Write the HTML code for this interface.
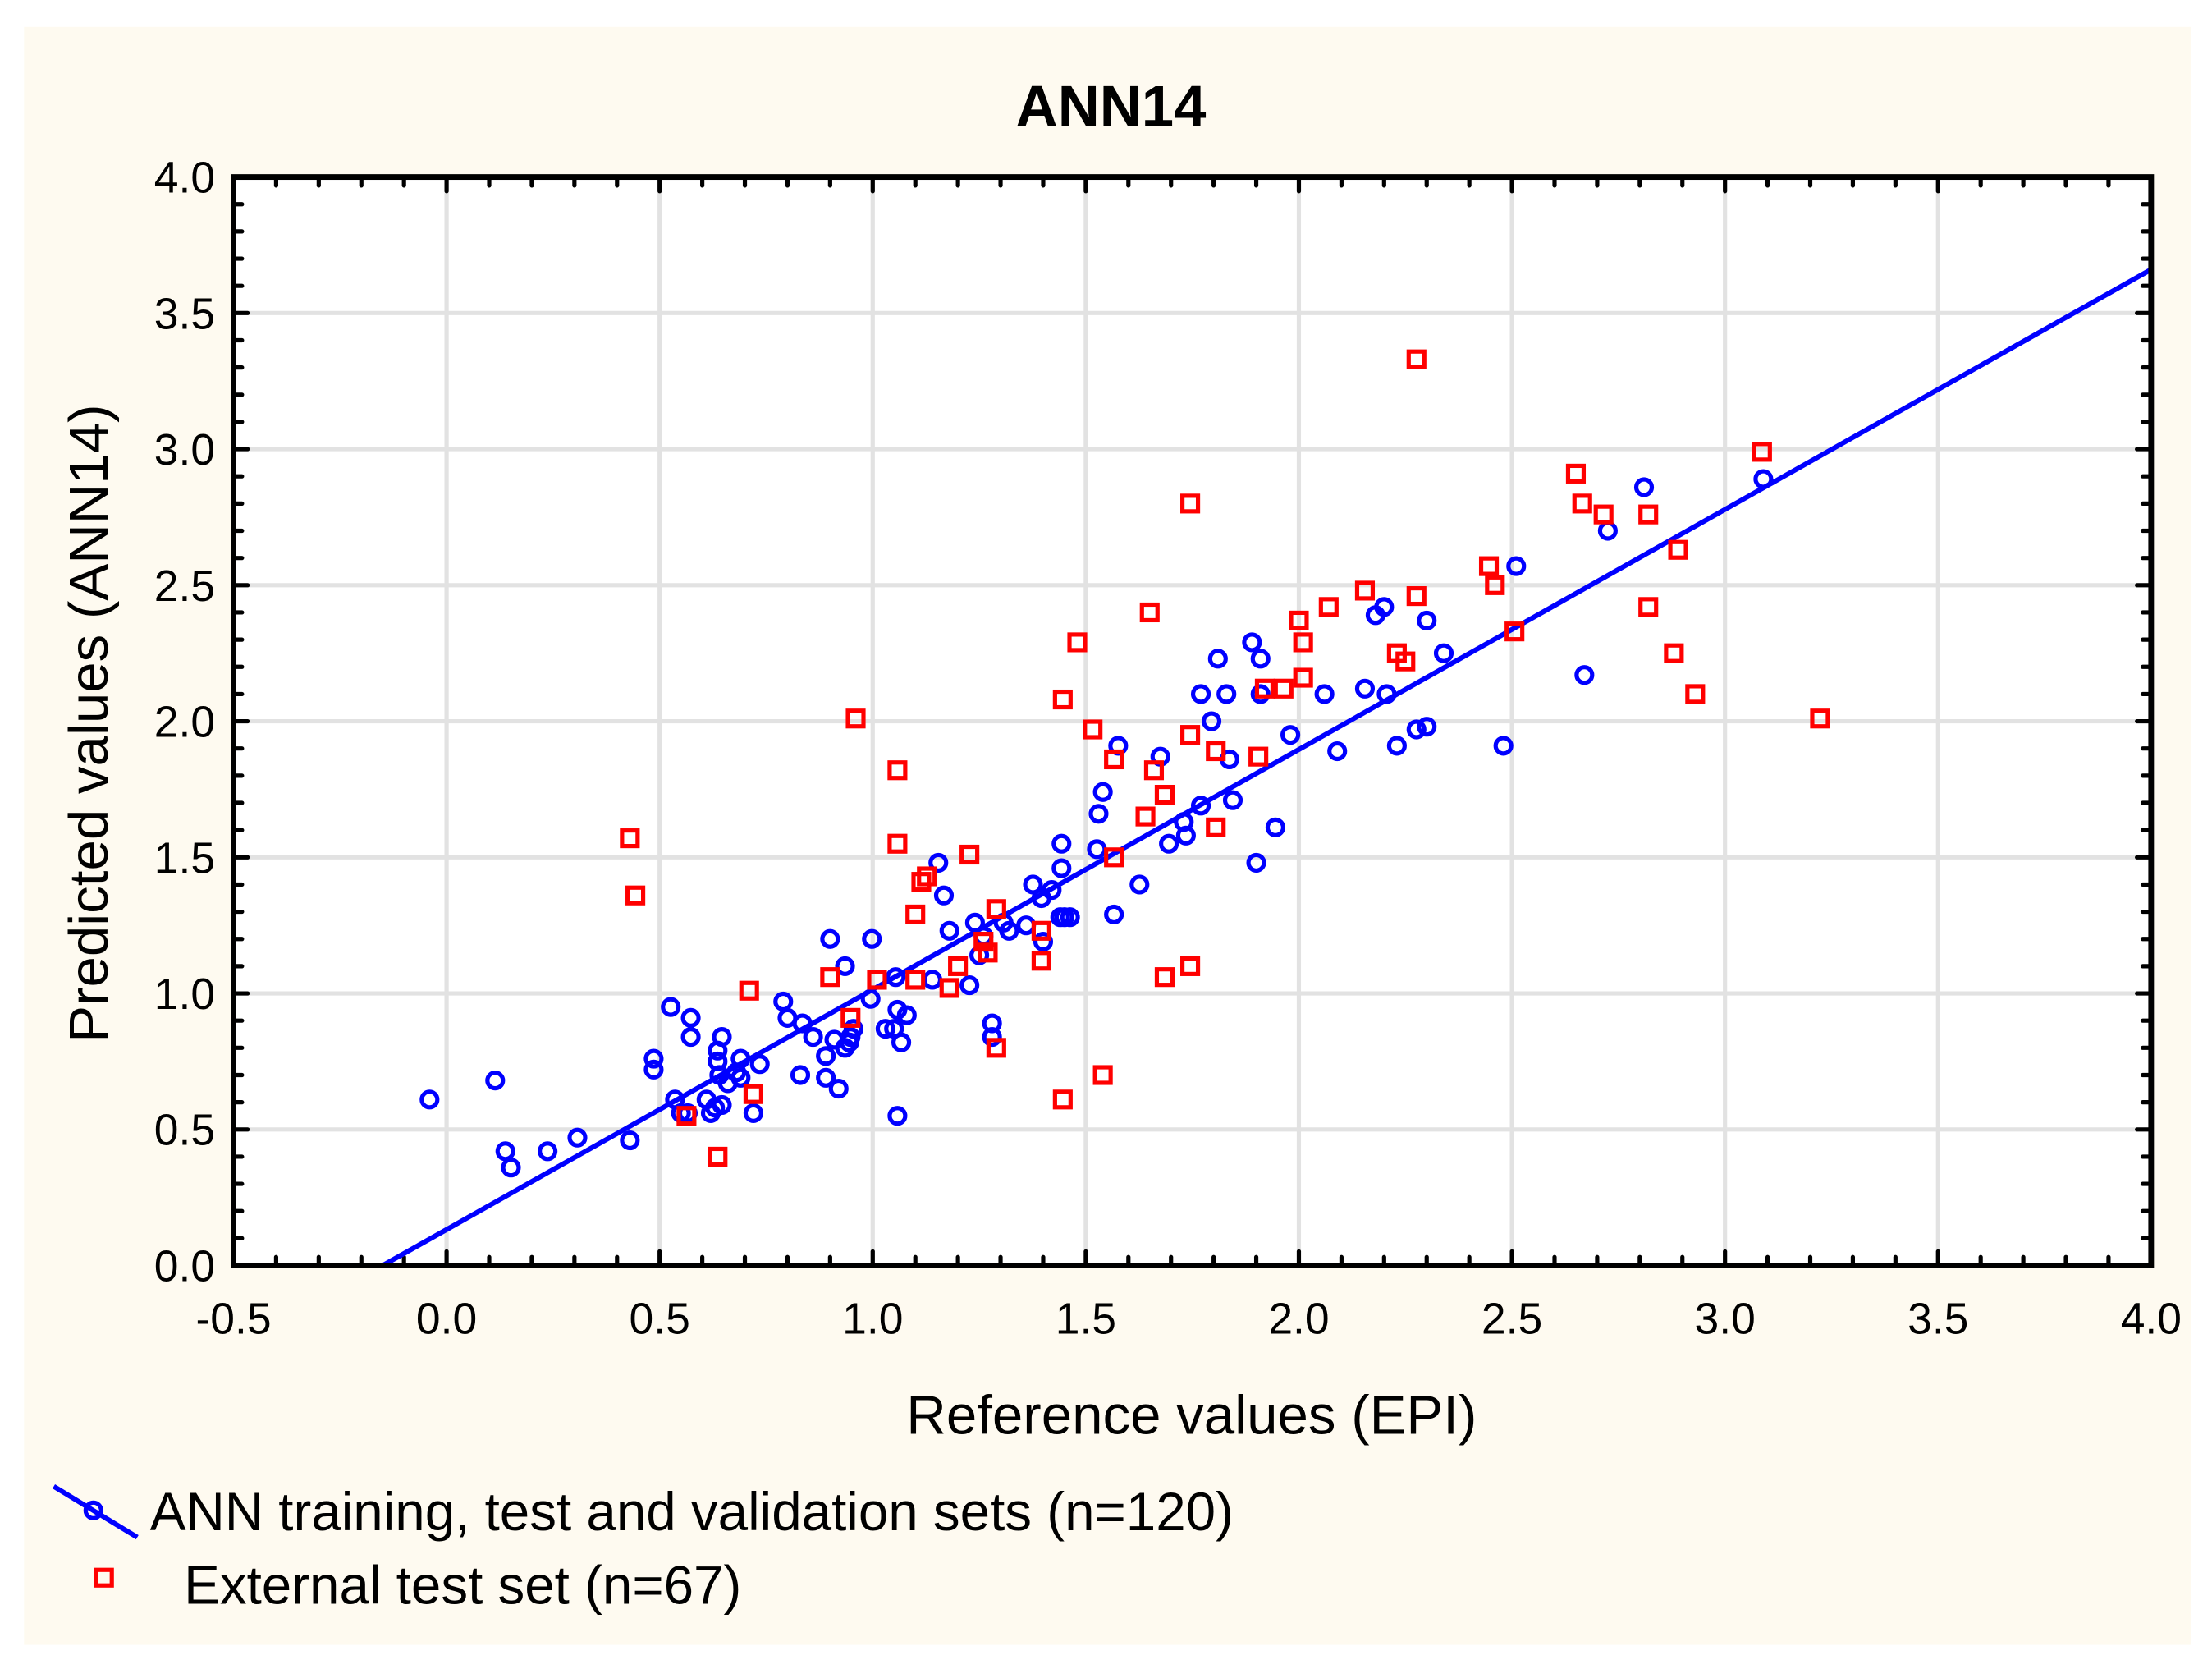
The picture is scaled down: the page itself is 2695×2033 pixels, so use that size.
<!DOCTYPE html>
<html><head><meta charset="utf-8"><style>
html,body{margin:0;padding:0;background:#fff;}
svg{display:block;font-family:"Liberation Sans",Arial,sans-serif;}
</style></head><body>
<svg id="chart" width="2695" height="2033" viewBox="0 0 1563 1179" xmlns="http://www.w3.org/2000/svg">
<rect x="17" y="19" width="1531" height="1143" fill="#fefaf0"/>
<rect x="165" y="125" width="1355" height="769" fill="#fff"/>
<g id="grid"></g><g id="ticks"></g>
<g id="reg"></g><g id="blue"></g><g id="red"></g>
<rect x="165" y="125" width="1355" height="769" fill="none" stroke="#000" stroke-width="4"/>
<text x="785" y="89" font-size="41" font-weight="bold" text-anchor="middle">ANN14</text>
<text x="842" y="1013" font-size="39" text-anchor="middle">Reference values (EPI)</text>
<text transform="translate(76,511) rotate(-90)" font-size="39" text-anchor="middle">Predicted values (ANN14)</text>
<g>
<line x1="38" y1="1050" x2="97" y2="1086" stroke="#0000ff" stroke-width="3.5"/>
<circle cx="66" cy="1067" r="5.5" fill="none" stroke="#0000ff" stroke-width="3"/>
<text x="106" y="1081" font-size="38">ANN training, test and validation sets (n=120)</text>
<rect x="68" y="1109" width="11" height="11" fill="none" stroke="#ff0000" stroke-width="3"/>
<text x="130" y="1133" font-size="38">External test set (n=67)</text>
</g>
</svg>
<script>
const xTicks=["-0.5","0.0","0.5","1.0","1.5","2.0","2.5","3.0","3.5","4.0"];
const yTicks=["0.0","0.5","1.0","1.5","2.0","2.5","3.0","3.5","4.0"];
const blueX=[-0.04,0.114,0.138,0.151,0.237,0.307,0.43,0.486,0.486,0.526,0.536,0.55,0.566,0.573,0.573,0.61,0.62,0.63,0.636,0.636,0.64,0.646,0.646,0.66,0.68,0.69,0.69,0.72,0.735,0.79,0.80,0.835,0.83,0.86,0.89,0.89,0.90,0.91,0.92,0.935,0.935,0.945,0.948,0.955,0.998,0.995,1.03,1.05,1.054,1.058,1.058,1.067,1.08,1.14,1.154,1.167,1.18,1.227,1.24,1.25,1.26,1.28,1.28,1.307,1.32,1.36,1.376,1.396,1.40,1.42,1.44,1.45,1.443,1.443,1.463,1.526,1.53,1.54,1.566,1.576,1.626,1.675,1.695,1.73,1.735,1.77,1.77,1.795,1.81,1.83,1.837,1.845,1.89,1.90,1.91,1.91,1.945,1.98,2.06,2.09,2.155,2.18,2.20,2.206,2.23,2.276,2.30,2.30,2.34,2.48,2.51,2.67,2.725,2.81,3.09];
const blueY=[0.61,0.68,0.42,0.36,0.42,0.47,0.46,0.76,0.72,0.95,0.61,0.56,0.56,0.91,0.84,0.61,0.56,0.58,0.79,0.75,0.70,0.84,0.59,0.67,0.71,0.76,0.69,0.56,0.74,0.97,0.91,0.89,0.70,0.84,0.77,0.69,1.20,0.83,0.65,1.10,0.80,0.82,0.84,0.87,1.20,0.98,0.87,0.87,1.06,0.55,0.94,0.82,0.92,1.05,1.48,1.36,1.23,1.03,1.26,1.14,1.21,0.89,0.84,1.26,1.23,1.25,1.40,1.35,1.19,1.38,1.28,1.28,1.55,1.46,1.28,1.53,1.66,1.74,1.29,1.91,1.40,1.87,1.55,1.63,1.58,1.69,2.10,2.00,2.23,2.10,1.86,1.71,2.29,1.48,2.23,2.10,1.61,1.95,2.10,1.89,2.12,2.39,2.42,2.10,1.91,1.97,1.98,2.37,2.25,1.91,2.57,2.17,2.70,2.86,2.89];
const redX=[0.43,0.443,0.563,0.636,0.71,0.72,0.90,0.948,0.96,1.01,1.058,1.058,1.10,1.10,1.114,1.127,1.18,1.20,1.227,1.26,1.27,1.29,1.29,1.396,1.396,1.446,1.446,1.48,1.516,1.54,1.566,1.566,1.64,1.65,1.66,1.685,1.685,1.745,1.745,1.745,1.805,1.805,1.905,1.92,1.964,2.00,2.01,2.01,2.07,2.155,2.23,2.25,2.276,2.276,2.446,2.46,2.506,2.65,2.665,2.715,2.82,2.82,2.88,2.89,2.93,3.087,3.223];
const redY=[1.57,1.36,0.55,0.40,1.01,0.63,1.06,0.91,2.01,1.05,1.82,1.55,1.29,1.05,1.41,1.43,1.02,1.10,1.51,1.19,1.15,1.31,0.80,1.23,1.12,0.61,2.08,2.29,1.97,0.70,1.86,1.50,1.65,2.40,1.82,1.06,1.73,2.80,1.95,1.10,1.89,1.61,1.87,2.12,2.12,2.37,2.29,2.16,2.42,2.48,2.25,2.22,2.46,3.33,2.57,2.50,2.33,2.91,2.80,2.76,2.76,2.42,2.25,2.63,2.10,2.99,2.01];
const regX=[-0.15,4.0];
const regSlope=0.882, regIntercept=0.1323;

const NS="http://www.w3.org/2000/svg";
const L=165,R=1520,T=125,B=894,XMIN=-0.5,XMAX=4.0,YMIN=0,YMAX=4.0;
function sx(v){return L+(v-XMIN)/(XMAX-XMIN)*(R-L);}
function sy(v){return B-(v-YMIN)/(YMAX-YMIN)*(B-T);}
function mk(tag,parent,attrs){const e=document.createElementNS(NS,tag);for(const k in attrs)e.setAttribute(k,attrs[k]);document.getElementById(parent).appendChild(e);return e;}

xTicks.forEach(function(t,i){
  const v=parseFloat(t),x=sx(v);
  if(i>0&&i<xTicks.length-1){const g=mk('line','grid',{x1:x,y1:T,x2:x,y2:B,stroke:'#e2e2e2','stroke-width':3});
  
  }
  const tl=mk('text','ticks',{x:x,y:942,'font-size':31,'text-anchor':'middle'});tl.textContent=t;
  
  
});
for(let k=0;k<=45;k++){const x=sx(XMIN+k*0.1);const len=(k%5===0)?10:6;
  mk('line','ticks',{x1:x,y1:B,x2:x,y2:B-len,stroke:'#000','stroke-width':3,'stroke-linecap':'round'});
  mk('line','ticks',{x1:x,y1:T,x2:x,y2:T+len,stroke:'#000','stroke-width':3,'stroke-linecap':'round'});}
yTicks.forEach(function(t,i){
  const v=parseFloat(t),y=sy(v);
  if(i>0&&i<yTicks.length-1){const g=mk('line','grid',{x1:L,y1:y,x2:R,y2:y,stroke:'#e2e2e2','stroke-width':3});
  
  }
  const tl=mk('text','ticks',{x:152,y:y+11,'font-size':31,'text-anchor':'end'});tl.textContent=t;
  
  
});
for(let k=0;k<=40;k++){const y=sy(k*0.1);const len=(k%5===0)?10:6;
  mk('line','ticks',{x1:L,y1:y,x2:L+len,y2:y,stroke:'#000','stroke-width':3,'stroke-linecap':'round'});
  mk('line','ticks',{x1:R,y1:y,x2:R-len,y2:y,stroke:'#000','stroke-width':3,'stroke-linecap':'round'});}

const rl=mk('line','reg',{x1:sx(regX[0]),y1:sy(regSlope*regX[0]+regIntercept),x2:sx(regX[1]),y2:sy(regSlope*regX[1]+regIntercept),stroke:'#0000ff','stroke-width':3.5});



blueX.forEach(function(v,i){
  const c=mk('circle','blue',{cx:sx(v),cy:sy(blueY[i]),r:5.5,fill:'none',stroke:'#0000ff','stroke-width':3});
  
  
});
redX.forEach(function(v,i){
  const s=mk('rect','red',{x:sx(v)-5.5,y:sy(redY[i])-5.5,width:11,height:11,fill:'none',stroke:'#ff0000','stroke-width':3});
  
  
});
</script>
</body></html>
